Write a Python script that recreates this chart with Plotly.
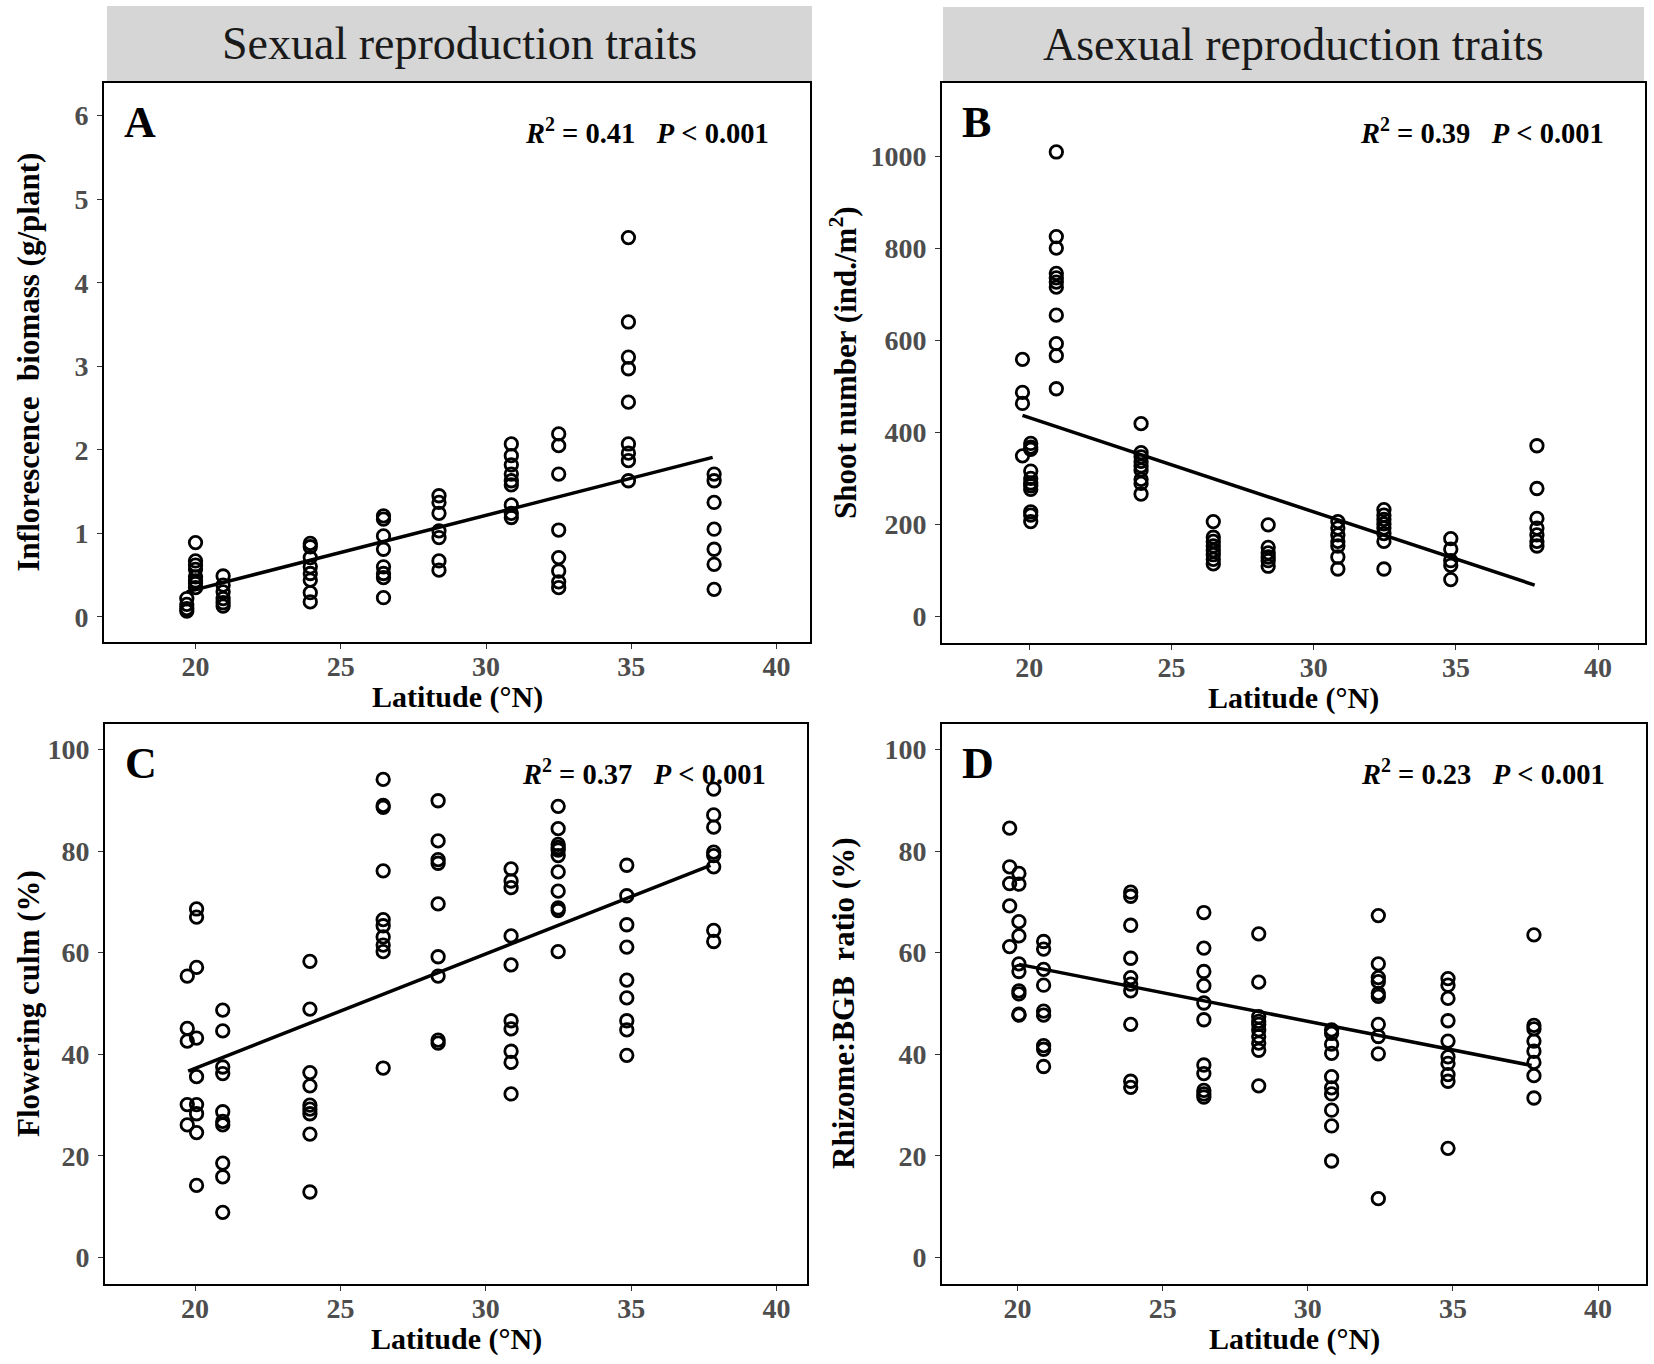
import plotly.graph_objects as go

# ---- data (latitude in degrees N) ----
# A: inflorescence biomass (g/plant)
lat_a = [19.7]*4 + [20.0]*8 + [20.95]*6 + [23.95]*8 + [26.47]*8 + [28.38]*7 + [30.87]*9 + [32.5]*8 + [34.9]*9 + [37.85]*7
val_a = [0.22, 0.15, 0.10, 0.07,
         0.89, 0.67, 0.62, 0.57, 0.48, 0.43, 0.40, 0.35,
         0.49, 0.38, 0.30, 0.22, 0.17, 0.13,
         0.88, 0.84, 0.71, 0.60, 0.52, 0.44, 0.29, 0.18,
         1.21, 1.17, 0.97, 0.81, 0.60, 0.52, 0.47, 0.23,
         1.45, 1.37, 1.24, 1.03, 0.95, 0.67, 0.56,
         2.07, 1.93, 1.82, 1.71, 1.63, 1.58, 1.34, 1.24, 1.19,
         2.19, 2.05, 1.71, 1.04, 0.71, 0.55, 0.42, 0.35,
         4.54, 3.53, 3.11, 2.97, 2.57, 2.07, 1.96, 1.87, 1.63,
         1.71, 1.63, 1.37, 1.05, 0.81, 0.63, 0.33]
fit_lat_a = [19.7, 37.8]
fit_val_a = [0.30, 1.91]

# B: shoot number (ind./m2)
lat_b = [19.76]*4 + [20.05]*11 + [20.95]*11 + [23.93]*9 + [26.47]*8 + [28.4]*6 + [30.85]*7 + [32.47]*8 + [34.82]*5 + [37.85]*7
val_b = [559, 487, 463, 349,
         376, 368, 363, 316, 300, 290, 284, 276, 227, 220, 206,
         1010, 826, 801, 746, 736, 727, 716, 655, 593, 567, 495,
         419, 356, 347, 337, 327, 318, 298, 289, 266,
         206, 172, 163, 153, 143, 134, 124, 114,
         199, 150, 138, 129, 121, 109,
         206, 192, 177, 163, 153, 129, 103,
         232, 220, 211, 201, 192, 180, 163, 103,
         169, 146, 121, 111, 80,
         371, 278, 213, 192, 177, 163, 153]
fit_lat_b = [19.76, 37.77]
fit_val_b = [437, 68]

# C: flowering culm (%)
lat_c = [19.73]*5 + [20.05]*9 + [20.95]*10 + [23.95]*9 + [26.47]*10 + [28.36]*9 + [30.87]*10 + [32.49]*11 + [34.85]*9 + [37.84]*8
val_c = [55.4, 45.1, 42.6, 30.1, 26.1,
         68.6, 67.0, 57.1, 43.2, 35.6, 30.1, 28.3, 24.6, 14.2,
         48.7, 44.6, 37.5, 36.2, 28.7, 26.8, 26.1, 18.6, 15.9, 8.9,
         58.3, 48.9, 36.4, 33.8, 30.0, 29.2, 28.3, 24.3, 12.9,
         94.1, 89.0, 88.6, 76.1, 66.5, 65.3, 63.1, 61.5, 60.2, 37.3,
         89.9, 82.0, 78.3, 77.6, 69.6, 59.2, 55.4, 42.8, 42.2,
         76.5, 74.1, 72.8, 63.3, 57.6, 46.6, 45.0, 40.6, 38.4, 32.2,
         88.8, 84.4, 81.3, 80.7, 80.2, 79.1, 75.9, 72.1, 68.8, 68.3, 60.2,
         77.2, 71.2, 65.5, 61.1, 54.6, 51.1, 46.6, 44.8, 39.8,
         92.2, 87.1, 84.7, 79.8, 79.1, 76.9, 64.4, 62.2]
fit_lat_c = [19.76, 37.73]
fit_val_c = [36.7, 77.2]

# D: rhizome:BGB ratio (%)
lat_d = [19.73]*5 + [20.05]*10 + [20.9]*9 + [23.9]*10 + [26.42]*11 + [28.31]*10 + [30.82]*10 + [32.43]*10 + [34.83]*10 + [37.79]*8
val_d = [84.5, 76.9, 73.6, 69.2, 61.2,
         75.6, 73.5, 66.1, 63.3, 57.8, 56.3, 52.5, 51.9, 47.9, 47.7,
         62.2, 60.7, 56.7, 53.6, 48.5, 47.7, 41.7, 41.0, 37.6,
         71.9, 71.1, 65.4, 58.9, 55.1, 53.8, 52.5, 45.9, 34.7, 33.5,
         67.9, 60.9, 56.3, 53.5, 50.1, 46.8, 37.9, 36.2, 32.9, 32.2, 31.6,
         63.7, 54.2, 47.4, 46.5, 45.9, 44.8, 43.5, 42.2, 40.8, 33.8,
         44.8, 44.1, 42.0, 40.2, 35.6, 33.4, 32.2, 29.0, 25.9, 19.0,
         67.3, 57.8, 55.1, 54.3, 52.0, 51.4, 45.9, 43.5, 40.1, 11.6,
         54.9, 53.6, 51.0, 46.6, 42.6, 39.5, 38.2, 36.0, 34.7, 21.5,
         63.5, 45.7, 45.0, 42.6, 40.6, 38.4, 35.8, 31.4]
fit_lat_d = [20.05, 37.71]
fit_val_d = [57.7, 37.8]

panel_letters = ["A", "B", "C", "D"]
r2_labels = ["0.41", "0.39", "0.37", "0.23"]
y_titles = ["Inflorescence  biomass (g/plant)", "Shoot number (ind./m<sup>2</sup>)",
            "Flowering culm (%)", "Rhizome:BGB  ratio (%)"]
strip_titles = ["Sexual reproduction traits", "Asexual reproduction traits"]

W, H = 1654, 1364
serif = "Liberation Serif, Times New Roman, serif"

# pixel boxes of each panel (left, right, top, bottom)
boxes = [(104, 810, 83, 642), (942, 1645, 83, 643), (105, 807, 724, 1284), (942, 1646, 724, 1284)]
xranges = [[16.85, 41.15], [16.93, 41.65], [16.9, 41.05], [17.4, 41.65]]
yranges = [[-0.3, 6.39], [-58, 1160], [-5.2, 105.0], [-5.2, 105.0]]
ydtick = [1, 200, 20, 20]

fig = go.Figure()
data = [(lat_a, val_a, fit_lat_a, fit_val_a), (lat_b, val_b, fit_lat_b, fit_val_b),
        (lat_c, val_c, fit_lat_c, fit_val_c), (lat_d, val_d, fit_lat_d, fit_val_d)]

for i, (lx, vy, fx, fy) in enumerate(data):
    sfx = "" if i == 0 else str(i + 1)
    fig.add_trace(go.Scatter(x=lx, y=vy, mode="markers", xaxis="x" + sfx, yaxis="y" + sfx,
                             marker=dict(symbol="circle-open", size=12.5, color="black",
                                         line=dict(width=2.8, color="black")),
                             showlegend=False))
    fig.add_trace(go.Scatter(x=fx, y=fy, mode="lines", xaxis="x" + sfx, yaxis="y" + sfx,
                             line=dict(color="black", width=3.5), showlegend=False))

    l, r, t, b = boxes[i]
    axstyle = dict(showline=True, linecolor="black", linewidth=1.6, mirror=True,
                   showgrid=False, zeroline=False, ticks="outside", ticklen=5,
                   tickwidth=1.2, tickcolor="#333333",
                   tickfont=dict(family=serif, size=28, color="#4d4d4d", weight="bold"))
    fig.update_layout(**{
        "xaxis" + sfx: dict(axstyle, domain=[l / W, r / W], range=xranges[i],
                            tickvals=[20, 25, 30, 35, 40], anchor="y" + sfx,
                            ticklabelstandoff=-6),
        "yaxis" + sfx: dict(axstyle, domain=[1 - b / H, 1 - t / H], range=yranges[i],
                            dtick=ydtick[i], tick0=0, anchor="x" + sfx,
                            ticklabelstandoff=3),
    })

    xd = "x" + sfx + " domain"
    yd = "y" + sfx + " domain"
    fig.add_annotation(text="<b>" + panel_letters[i] + "</b>", xref=xd, yref=yd,
                       x=0.025, y=0.93, xanchor="left", yanchor="middle", showarrow=False,
                       font=dict(family=serif, size=44, color="black"))
    fig.add_annotation(text="<b><i>R</i><sup>2</sup> = " + r2_labels[i]
                            + "\u00a0\u00a0\u00a0<i>P</i> &lt; 0.001</b>",
                       xref=xd, yref=yd, x=0.945, y=0.915, xanchor="right", yanchor="middle",
                       showarrow=False, font=dict(family=serif, size=28.5, color="black"))
    # axis titles
    fig.add_annotation(text="<b>Latitude (°N)</b>", xref="paper", yref="paper",
                       x=(l + r) / 2 / W, y=1 - (b + 55) / H, xanchor="center", yanchor="middle",
                       showarrow=False, font=dict(family=serif, size=30, color="black"))
    ytx = 28 if i in (0, 2) else 843
    fig.add_annotation(text="<b>" + y_titles[i].replace("  ", "\u00a0\u00a0") + "</b>",
                       xref="paper", yref="paper", textangle=-90,
                       x=ytx / W, y=1 - (t + b) / 2 / H, xanchor="center", yanchor="middle",
                       showarrow=False, font=dict(family=serif, size=31, color="black"))

# grey strips above the top panels
strips = [(107, 812, 6, 81), (943, 1644, 7, 82)]
for (l, r, t, b), title in zip(strips, strip_titles):
    fig.add_shape(type="rect", xref="paper", yref="paper", x0=l / W, x1=r / W,
                  y0=1 - b / H, y1=1 - t / H, fillcolor="#d6d6d6", line=dict(width=0), layer="below")
    fig.add_annotation(text=title, xref="paper", yref="paper", x=(l + r) / 2 / W,
                       y=1 - (t + b) / 2 / H, xanchor="center", yanchor="middle", showarrow=False,
                       font=dict(family=serif, size=46, color="#1a1a1a"))

fig.update_layout(width=W, height=H, margin=dict(l=0, r=0, t=0, b=0),
                  plot_bgcolor="white", paper_bgcolor="white")
# drop the page's default body margin so the figure sits at the window's corner
fig.write_html("out.html", config={"displayModeBar": False},
               post_script="document.body.style.margin='0';document.body.style.overflow='hidden';")
